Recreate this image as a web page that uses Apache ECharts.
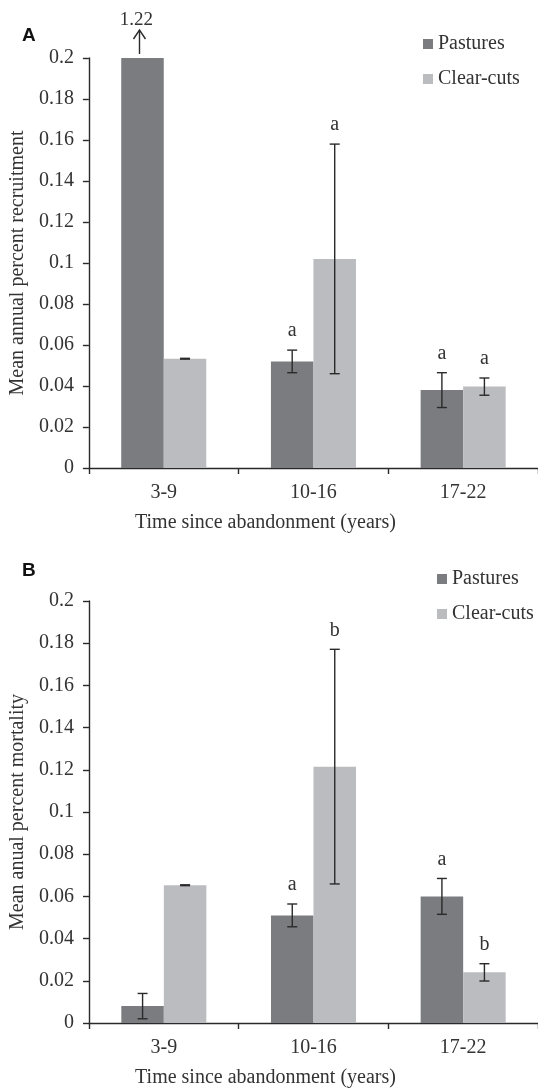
<!DOCTYPE html>
<html>
<head>
<meta charset="utf-8">
<script src="https://cdn.jsdelivr.net/npm/echarts@6/dist/echarts.min.js"></script>
<style>
html,body{margin:0;padding:0;background:#fff;}
#chart{width:538px;height:1089px;}
</style>
</head>
<body>
<div id="chart"></div>
<script>
// ---- data ----
const categories = ['3-9', '10-16', '17-22'];
const seriesNames = ['Pastures', 'Clear-cuts'];

const recruitPastures = [1.22, 0.052, 0.038];
const recruitPasturesErr = [0, 0.0055, 0.0085];
const recruitPasturesLetters = ['', 'a', 'a'];
const recruitClear = [0.0533, 0.102, 0.0397];
const recruitClearErr = [0.0002, 0.056, 0.0042];
const recruitClearLetters = ['', 'a', 'a'];

const mortPastures = [0.008, 0.051, 0.060];
const mortPasturesErr = [0.006, 0.0054, 0.0085];
const mortPasturesLetters = ['', 'a', 'a'];
const mortClear = [0.0653, 0.1215, 0.024];
const mortClearErr = [0.0002, 0.0556, 0.0041];
const mortClearLetters = ['', 'b', 'b'];

const yMin = 0, yMax = 0.2, yStep = 0.02;

// ---- style ----
const SERIF = '"Liberation Serif", "Times New Roman", serif';
const C_PAST = '#7b7c80';
const C_CLEAR = '#bbbcc0';
const INK = '#2a2a2a';
const BAR_FRAC = 0.284;

const chart = echarts.init(document.getElementById('chart'));

function errRender(letters, side, yMaxVal) {
  return function (params, api) {
    const i = api.value(0), v = api.value(1), e = api.value(2);
    const catW = api.size([1, 0])[0];
    const bw = catW * BAR_FRAC;
    const c = api.coord([i, Math.min(v, yMaxVal)]);
    const x = c[0] + side * bw / 2;
    const children = [];
    const lineStyle = { stroke: INK, lineWidth: 1.4 };
    let topY;
    if (v > yMaxVal) {
      const y0 = c[1];
      const tip = y0 - 28;
      children.push({ type: 'line', shape: { x1: x - 3, y1: y0 - 4, x2: x - 3, y2: tip }, style: lineStyle });
      children.push({ type: 'polyline', shape: { points: [[x - 9, tip + 9], [x - 3, tip], [x + 3, tip + 9]] }, style: { stroke: INK, lineWidth: 1.4, fill: null } });
      children.push({ type: 'text', style: { text: String(v), x: x - 6, y: tip - 10, align: 'center', verticalAlign: 'middle', font: '19px ' + SERIF, fill: '#333' } });
      topY = null;
    } else {
      const pHi = api.coord([i, v + e]);
      const pLo = api.coord([i, v - e]);
      const cap = 5;
      children.push({ type: 'line', shape: { x1: x, y1: pHi[1], x2: x, y2: pLo[1] }, style: lineStyle });
      children.push({ type: 'line', shape: { x1: x - cap, y1: pHi[1], x2: x + cap, y2: pHi[1] }, style: lineStyle });
      children.push({ type: 'line', shape: { x1: x - cap, y1: pLo[1], x2: x + cap, y2: pLo[1] }, style: lineStyle });
      topY = pHi[1];
    }
    const L = letters[params.dataIndex];
    if (L && topY !== null) {
      children.push({ type: 'text', style: { text: L, x: x, y: topY - 19, align: 'center', verticalAlign: 'middle', font: '20px ' + SERIF, fill: '#333' } });
    }
    return { type: 'group', children: children };
  };
}

function makeX(gi) {
  return {
    type: 'category', gridIndex: gi, data: categories,
    axisLine: { lineStyle: { color: INK, width: 1.4 } },
    axisTick: { show: true, length: 6, lineStyle: { color: INK, width: 1.4 } },
    axisLabel: { margin: 15, fontFamily: SERIF, fontSize: 20, color: '#333' },
    name: 'Time since abandonment (years)', nameLocation: 'middle', nameGap: 45,
    nameTextStyle: { fontFamily: SERIF, fontSize: 20, color: '#333', padding: [0, 96, 0, 0] }
  };
}
function makeY(gi, name) {
  return {
    type: 'value', gridIndex: gi, min: yMin, max: yMax, interval: yStep,
    axisLine: { show: true, lineStyle: { color: INK, width: 1.4 } },
    axisTick: { show: true, length: 6, lineStyle: { color: INK, width: 1.4 } },
    splitLine: { show: false },
    axisLabel: { margin: 15, fontFamily: SERIF, fontSize: 20, color: '#333',
      formatter: v => String(parseFloat(v.toFixed(3))) },
    name: name, nameLocation: 'middle', nameGap: 60,
    nameTextStyle: { fontFamily: SERIF, fontSize: 20, color: '#333' }
  };
}
function barS(name, gi, data, color) {
  return { type: 'bar', name: name, xAxisIndex: gi, yAxisIndex: gi, data: data,
    barWidth: (BAR_FRAC * 100) + '%', barGap: '0%', clip: true,
    itemStyle: { color: color }, emphasis: { disabled: true } };
}
function errS(gi, vals, errs, letters, side) {
  return { type: 'custom', xAxisIndex: gi, yAxisIndex: gi, z: 5, silent: true,
    data: vals.map((v, i) => [i, v, errs[i]]),
    encode: { x: 0, y: 1 },
    renderItem: errRender(letters, side, yMax) };
}
function legendFor(left, top) {
  return { orient: 'vertical', left: left, top: top, itemWidth: 10, itemHeight: 10, itemGap: 15,
    icon: 'rect', selectedMode: false,
    textStyle: { fontFamily: SERIF, fontSize: 20, color: '#333', padding: [0, 0, 0, 0] },
    data: seriesNames };
}

chart.setOption({
  animation: false,
  backgroundColor: '#fff',
  title: [
    { text: 'A', left: 17, top: 21, textStyle: { fontFamily: '"Liberation Sans", Arial, sans-serif', fontWeight: 'bold', fontSize: 19, color: '#111' } },
    { text: 'B', left: 17, top: 556, textStyle: { fontFamily: '"Liberation Sans", Arial, sans-serif', fontWeight: 'bold', fontSize: 19, color: '#111' } }
  ],
  legend: [legendFor(418, 29), legendFor(432, 564)],
  grid: [
    { left: 88, right: 0, top: 58, height: 410 },
    { left: 89, right: 0, top: 601, height: 422 }
  ],
  xAxis: [makeX(0), makeX(1)],
  yAxis: [makeY(0, 'Mean annual percent recruitment'), makeY(1, 'Mean anual percent mortality')],
  series: [
    barS(seriesNames[0], 0, recruitPastures, C_PAST),
    barS(seriesNames[1], 0, recruitClear, C_CLEAR),
    barS(seriesNames[0], 1, mortPastures, C_PAST),
    barS(seriesNames[1], 1, mortClear, C_CLEAR),
    errS(0, recruitPastures, recruitPasturesErr, recruitPasturesLetters, -1),
    errS(0, recruitClear, recruitClearErr, recruitClearLetters, 1),
    errS(1, mortPastures, mortPasturesErr, mortPasturesLetters, -1),
    errS(1, mortClear, mortClearErr, mortClearLetters, 1)
  ]
});
</script>
</body>
</html>
